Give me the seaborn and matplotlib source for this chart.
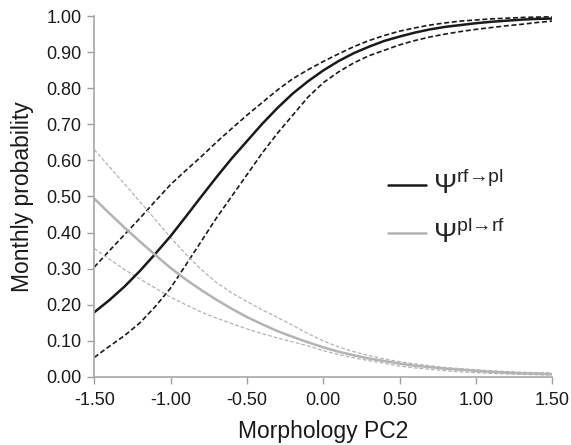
import numpy as np
import seaborn as sns
import matplotlib.pyplot as plt
from matplotlib.ticker import FormatStrFormatter

# morphology PC2 grid
pc2 = [-1.5, -1.4, -1.3, -1.2, -1.1, -1.0, -0.9, -0.8, -0.7, -0.6, -0.5,
       -0.4, -0.3, -0.2, -0.1, 0.0, 0.1, 0.2, 0.3, 0.4, 0.5,
       0.6, 0.7, 0.8, 0.9, 1.0, 1.1, 1.2, 1.3, 1.4, 1.5]

# psi rf -> pl (estimate, upper and lower bound)
rf_pl = [0.179, 0.213, 0.251, 0.294, 0.341, 0.390, 0.444, 0.499, 0.553, 0.605, 0.653,
         0.701, 0.745, 0.785, 0.819, 0.849, 0.875, 0.897, 0.915, 0.931, 0.943,
         0.954, 0.963, 0.970, 0.975, 0.980, 0.984, 0.987, 0.990, 0.992, 0.993]
rf_pl_hi = [0.304, 0.350, 0.395, 0.440, 0.487, 0.533, 0.572, 0.610, 0.650, 0.688, 0.725,
            0.760, 0.795, 0.826, 0.851, 0.874, 0.895, 0.915, 0.932, 0.946, 0.958,
            0.967, 0.975, 0.981, 0.986, 0.989, 0.992, 0.994, 0.996, 0.997, 0.998]
rf_pl_lo = [0.054, 0.085, 0.115, 0.150, 0.195, 0.246, 0.310, 0.375, 0.440, 0.500, 0.560,
            0.620, 0.675, 0.725, 0.775, 0.815, 0.845, 0.870, 0.890, 0.905, 0.920,
            0.932, 0.942, 0.950, 0.957, 0.963, 0.968, 0.973, 0.977, 0.982, 0.986]

# psi pl -> rf (estimate, upper and lower bound)
pl_rf = [0.494, 0.453, 0.413, 0.375, 0.338, 0.302, 0.270, 0.241, 0.214, 0.189, 0.166,
         0.146, 0.127, 0.111, 0.096, 0.082, 0.070, 0.060, 0.051, 0.044, 0.037,
         0.031, 0.027, 0.023, 0.020, 0.017, 0.014, 0.012, 0.010, 0.009, 0.0075]
pl_rf_hi = [0.630, 0.582, 0.534, 0.485, 0.436, 0.386, 0.340, 0.298, 0.262, 0.233, 0.209,
            0.186, 0.165, 0.143, 0.120, 0.100, 0.083, 0.070, 0.059, 0.050, 0.042,
            0.036, 0.031, 0.026, 0.023, 0.020, 0.017, 0.015, 0.013, 0.012, 0.011]
pl_rf_lo = [0.356, 0.326, 0.297, 0.271, 0.246, 0.221, 0.200, 0.180, 0.163, 0.148, 0.133,
            0.120, 0.108, 0.097, 0.086, 0.073, 0.062, 0.053, 0.045, 0.038, 0.030,
            0.025, 0.021, 0.017, 0.014, 0.012, 0.010, 0.008, 0.007, 0.006, 0.005]

sns.set_style("ticks")
plt.rcParams['font.family'] = ['Liberation Sans', 'DejaVu Sans']
plt.rcParams['mathtext.fontset'] = 'custom'
plt.rcParams['mathtext.rm'] = 'Liberation Sans'

fig, ax = plt.subplots(figsize=(5.71, 4.45), dpi=100)
fig.subplots_adjust(left=0.165, right=0.967, top=0.964, bottom=0.153)

black = "#1a1a1a"
grey = "#b3b3b3"
dash = (0, (3, 1.6))

sns.lineplot(x=pc2, y=rf_pl_hi, ax=ax, color=black, lw=1.2, linestyle=dash)
sns.lineplot(x=pc2, y=rf_pl_lo, ax=ax, color=black, lw=1.2, linestyle=dash)
sns.lineplot(x=pc2, y=pl_rf_hi, ax=ax, color=grey, lw=0.9, linestyle=dash)
sns.lineplot(x=pc2, y=pl_rf_lo, ax=ax, color=grey, lw=0.9, linestyle=dash)
sns.lineplot(x=pc2, y=rf_pl, ax=ax, color=black, lw=1.8,
             label=r"$\Psi^{\mathrm{rf→pl}}$")
sns.lineplot(x=pc2, y=pl_rf, ax=ax, color=grey, lw=1.8,
             label=r"$\Psi^{\mathrm{pl→rf}}$")

ax.set_xlim(-1.5, 1.5)
ax.set_ylim(0, 1.0)
ax.set_xticks(np.arange(-1.5, 1.51, 0.5))
ax.set_yticks(np.arange(0, 1.01, 0.1))
ax.xaxis.set_major_formatter(FormatStrFormatter("%.2f"))
ax.yaxis.set_major_formatter(FormatStrFormatter("%.2f"))
ax.tick_params(labelsize=13, colors="#a0a0a0", labelcolor="#1a1a1a", length=5, width=1)
ax.tick_params(axis="x", pad=6)
ax.tick_params(axis="y", pad=4)
for s in ["top", "right"]:
    ax.spines[s].set_visible(False)
for s in ["left", "bottom"]:
    ax.spines[s].set_color("#a8a8a8")
    ax.spines[s].set_linewidth(1.2)

ax.set_xlabel("Morphology PC2", fontsize=16.5, color="#1a1a1a", labelpad=8)
ax.set_ylabel("Monthly probability", fontsize=16.5, color="#1a1a1a", labelpad=9)

ax.legend(loc="center left", bbox_to_anchor=(0.642, 0.462), frameon=False,
          fontsize=20, handlelength=1.35, labelspacing=0.7, handletextpad=0.25,
          borderaxespad=0, borderpad=0)

fig.savefig("out.png", dpi=100)
